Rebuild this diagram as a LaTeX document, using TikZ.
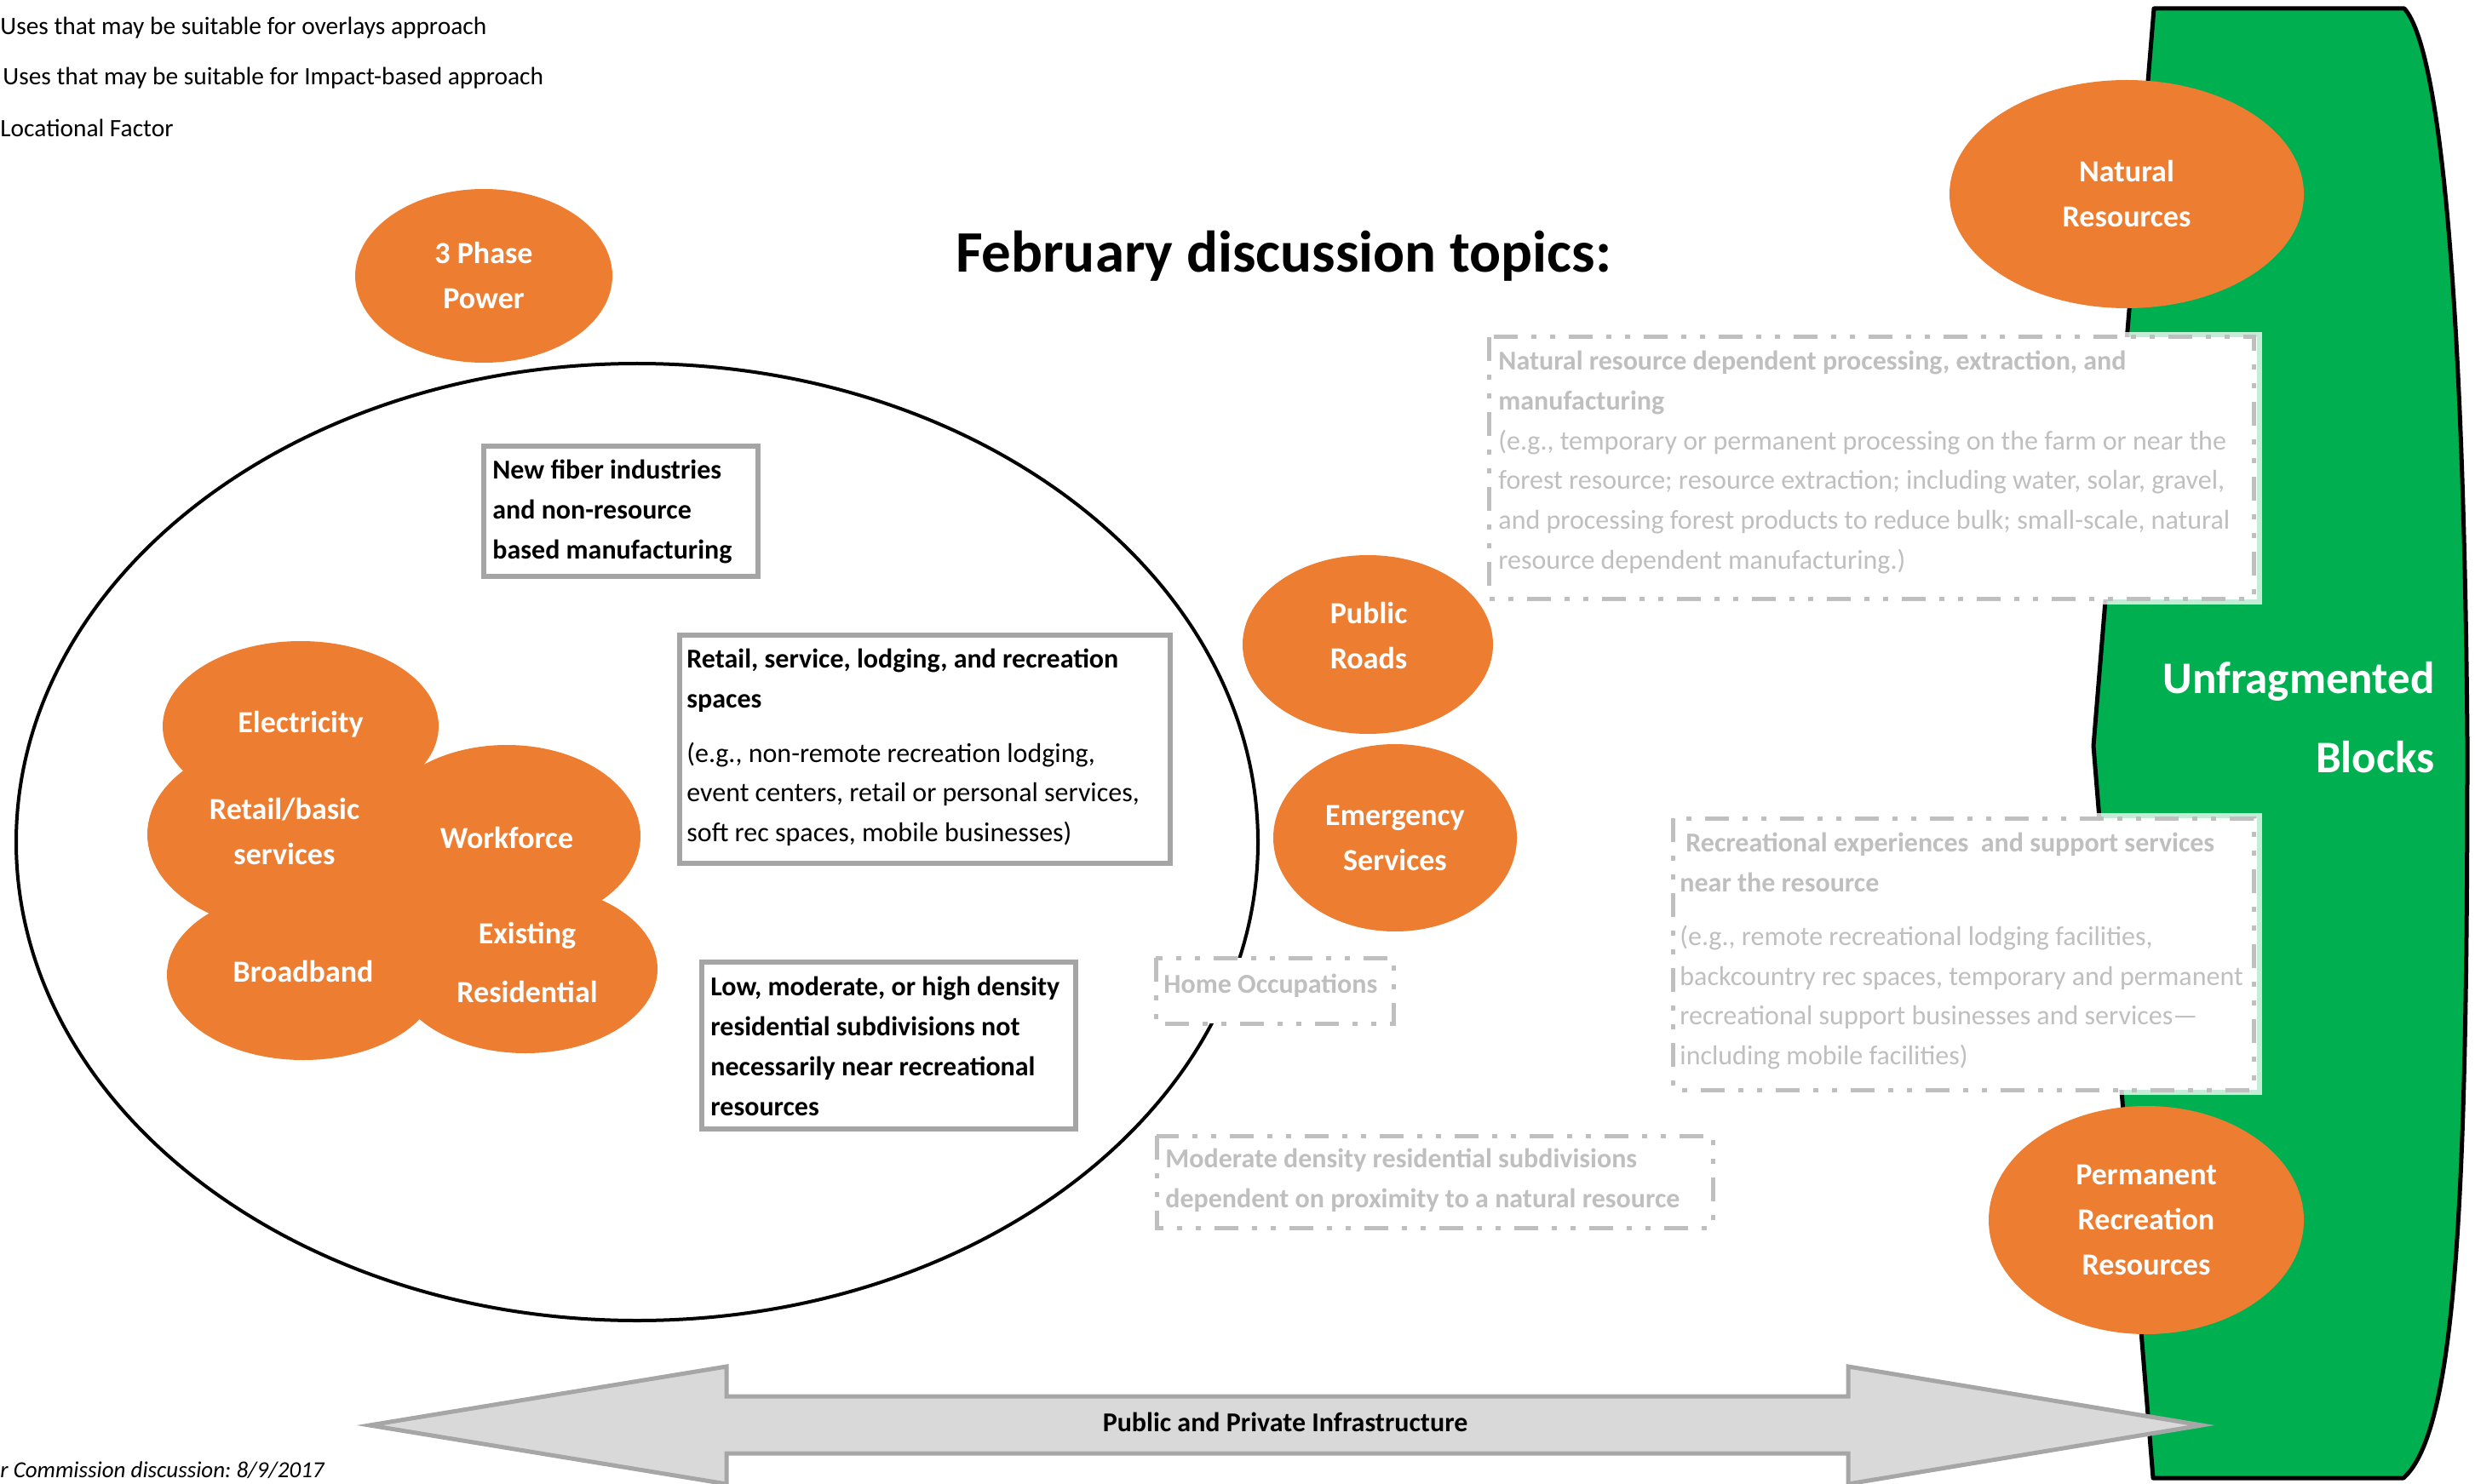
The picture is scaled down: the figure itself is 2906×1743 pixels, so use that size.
\documentclass[tikz,border=0pt]{standalone}
\usepackage{fontspec}
\setmainfont{Carlito}
\usetikzlibrary{shapes.geometric}
\definecolor{orng}{HTML}{ED7D31}
\definecolor{grn}{HTML}{00B050}
\definecolor{boxgray}{HTML}{A5A5A5}
\definecolor{dashgray}{HTML}{BFBFBF}
\definecolor{arrowfill}{HTML}{D9D9D9}
\definecolor{arrowline}{HTML}{A6A6A6}
\begin{document}
\frenchspacing
\begin{tikzpicture}[x=0.5pt,y=-0.5pt,
  orangeball/.style={ellipse, fill=orng, inner sep=0pt, text=white, align=center,
    font=\fontsize{18}{26.5}\selectfont\bfseries},
  clusterfill/.style={fill=orng},
  clusterlabel/.style={inner sep=0pt, text=white, align=center,
    font=\fontsize{18}{26.5}\selectfont\bfseries},
  solidbox/.style={draw=boxgray, line width=3pt, fill=white},
  dashbox/.style={draw=dashgray, line width=2.5pt, fill=white,
    dash pattern=on 14pt off 8pt on 3pt off 8pt on 3pt off 8pt},
  whiteframe/.style={fill=white, draw=white, draw opacity=0.77, line width=6pt},
  boxtext/.style={anchor=west, inner sep=0pt, align=left,
    font=\fontsize{16}{23.3}\selectfont},
  graytext/.style={boxtext, text=dashgray},
  legendtext/.style={anchor=west, inner sep=0pt, font=\fontsize{14.7}{17}\selectfont}
]
\useasboundingbox (0,0) rectangle (2906,1743);

% legend
\node[legendtext] (leg1) at (0,33) {Uses that may be suitable for overlays approach};
\node[legendtext] (leg2) at (3,92) {Uses that may be suitable for Impact-based approach};
\node[legendtext] (leg3) at (0,150) {Locational Factor};

% green block
\draw[fill=grn, line width=2.5pt, line join=round]
  (2529,10) -- (2823,10) .. controls (2868,60) and (2893,380) .. (2897,870)
  .. controls (2897,1400) and (2885,1680) .. (2822,1736)
  -- (2528,1736) -- (2458,876) -- cycle;
\node[anchor=east, inner sep=0pt, text=white, align=right,
  font=\fontsize{26.5}{46.5}\selectfont\bfseries] (blocks) at (2859,843)
  {Unfragmented\\Blocks};

% title
\node[inner sep=0pt, font=\fontsize{34.5}{40}\selectfont\bfseries] (title) at (1507,301)
  {February discussion topics:};

% big ellipse
\draw[line width=2pt] (748,989) ellipse [x radius=729, y radius=562];

% orange balls
\node[orangeball, minimum width=151pt, minimum height=102pt] (phase) at (568,324) {3 Phase\\Power};
\node[orangeball, minimum width=208pt, minimum height=134pt] (natres) at (2497,228) {Natural\\Resources};
\node[orangeball, minimum width=147pt, minimum height=105pt] (roadsball) at (1606,757) {};
\node[inner sep=0pt, text=white, align=center, font=\fontsize{18}{26.5}\selectfont\bfseries]
  (roads) at (1607,746) {Public\\Roads};
\node[orangeball, minimum width=143pt, minimum height=110pt] (emerg) at (1638,984) {Emergency\\Services};
\node[orangeball, minimum width=185pt, minimum height=134pt] (permrec) at (2520,1433) {Permanent\\Recreation\\Resources};

% cluster
\fill[clusterfill] (353,853) ellipse [x radius=162, y radius=100];
\fill[clusterfill] (338,980) ellipse [x radius=165, y radius=112];
\fill[clusterfill] (595,982) ellipse [x radius=157, y radius=107];
\fill[clusterfill] (356,1145) ellipse [x radius=160, y radius=100];
\fill[clusterfill] (617,1138) ellipse [x radius=155, y radius=99];
\fill[clusterfill] (480,1062) ellipse [x radius=130, y radius=85];
\node[clusterlabel] (elec) at (353,851) {Electricity};
\node[clusterlabel] (retail) at (334,976) {Retail/basic\\services};
\node[clusterlabel] (work) at (595,984) {Workforce};
\node[clusterlabel] (broad) at (356,1141) {Broadband};
\node[clusterlabel, font=\fontsize{18}{34.5}\selectfont\bfseries] (exist) at (619,1130) {Existing\\Residential};

% solid boxes
\draw[solidbox] (568,524) rectangle (890,677);
\node[boxtext, font=\fontsize{16}{23.3}\selectfont\bfseries] (fiber) at (578,601)
  {New fiber industries\\and non-resource\\based manufacturing};
\draw[solidbox] (798,746) rectangle (1374,1014);
\node[boxtext] (retailbox) at (806,878)
  {\textbf{Retail, service, lodging, and recreation}\\\textbf{spaces}\\[8.5pt]
   (e.g., non-remote recreation lodging,\\event centers, retail or personal services,\\soft rec spaces, mobile businesses)};
\draw[solidbox] (824,1130) rectangle (1263,1326);
\node[boxtext, font=\fontsize{16}{23.5}\selectfont\bfseries] (lowdens) at (834,1229)
  {Low, moderate, or high density\\residential subdivisions not\\necessarily near recreational\\resources};

% dashed boxes
\draw[whiteframe] (1748,396) rectangle (2650,704);
\draw[dashbox] (1748,396) rectangle (2646,703);
\node[graytext] (natproc) at (1759,543)
  {\textbf{Natural resource dependent processing, extraction, and}\\\textbf{manufacturing}\\
   (e.g., temporary or permanent processing on the farm or near the\\
   forest resource; resource extraction; including water, solar, gravel,\\
   and processing forest products to reduce bulk; small-scale, natural\\
   resource dependent manufacturing.)};

\draw[whiteframe] (1964,961) rectangle (2650,1280);
\draw[dashbox] (1964,961) rectangle (2646,1280);
\node[graytext] (recexp) at (1972,1117)
  {\textbf{\hspace{3.5pt}Recreational experiences\ \ and support services}\\\textbf{near the resource}\\[8.5pt]
   (e.g., remote recreational lodging facilities,\\backcountry rec spaces, temporary and permanent\\
   recreational support businesses and services—\\including mobile facilities)};

\draw[dashbox] (1357,1125) rectangle (1636,1202);
\node[graytext, font=\fontsize{16}{23}\selectfont\bfseries] (home) at (1366,1158) {Home Occupations};

\draw[dashbox] (1358,1334) rectangle (2011,1442);
\node[graytext, font=\fontsize{16}{23.3}\selectfont\bfseries] (moddens) at (1368,1386)
  {Moderate density residential subdivisions\\dependent on proximity to a natural resource};

% bottom arrow
\draw[fill=arrowfill, draw=arrowline, line width=2.5pt, line join=miter]
  (434,1674) -- (853,1605) -- (853,1640) -- (2170,1640) -- (2170,1605) -- (2585,1674)
  -- (2170,1743) -- (2170,1707) -- (853,1707) -- (853,1743) -- cycle;
\node[inner sep=0pt, font=\fontsize{16}{19}\selectfont\bfseries] (infra) at (1509,1670)
  {Public and Private Infrastructure};

% footer
\node[anchor=west, inner sep=0pt, font=\fontsize{13.5}{16}\selectfont\itshape] (footer) at (0,1727)
  {r Commission discussion: 8/9/2017};
\end{tikzpicture}
\end{document}
